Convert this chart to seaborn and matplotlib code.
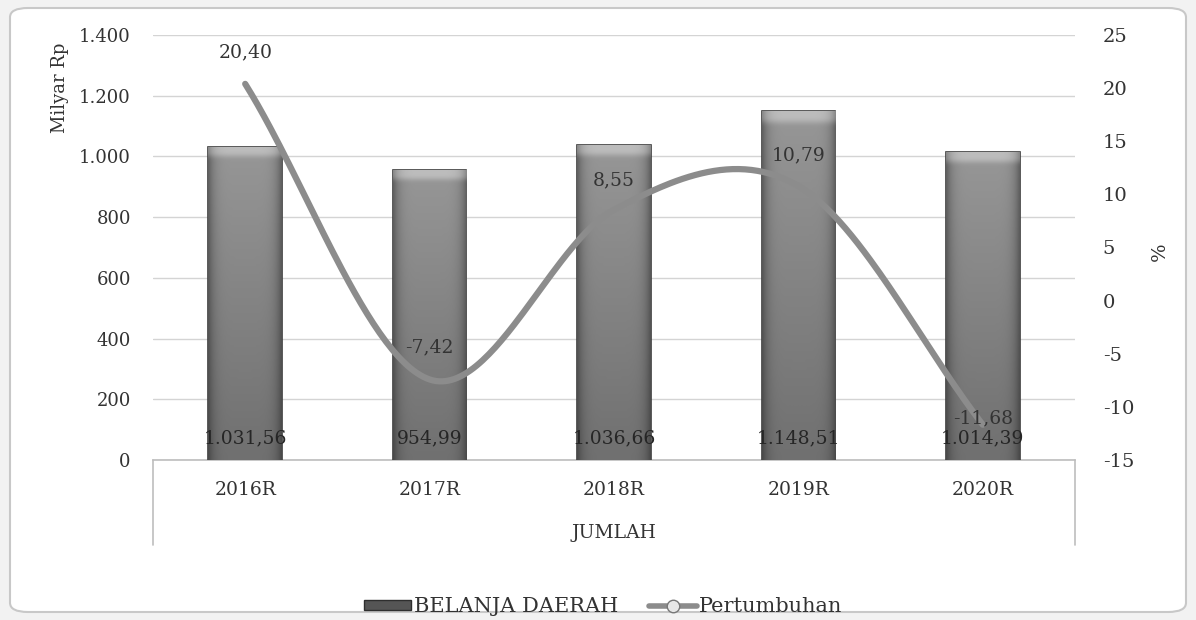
import numpy as np
import pandas as pd
import matplotlib
matplotlib.use("Agg")
import matplotlib.pyplot as plt
from matplotlib.patches import FancyBboxPatch
from matplotlib.lines import Line2D
from matplotlib.patches import Patch
import seaborn as sns

# ---- data ----
categories = ["2016R", "2017R", "2018R", "2019R", "2020R"]
belanja = [1031.56, 954.99, 1036.66, 1148.51, 1014.39]
pertumbuhan = [20.40, -7.42, 8.55, 10.79, -11.68]
left_ticks = [0, 200, 400, 600, 800, 1000, 1200, 1400]
right_ticks = [-15, -10, -5, 0, 5, 10, 15, 20, 25]


def id_fmt(v, dec=2):
    s = f"{v:,.{dec}f}"
    return s.replace(",", "X").replace(".", ",").replace("X", ".")


sns.set_theme(style="white")
plt.rcParams["font.family"] = ["DejaVu Serif"]
TXT = "#333333"
FS = 13.5

fig = plt.figure(figsize=(11.96, 6.2), dpi=100, facecolor="#f2f2f2")
W, H = 1196, 620

# rounded chart frame
frame = FancyBboxPatch((10 / W, 8 / H), 1176 / W, 604 / H,
                       boxstyle="round,pad=0,rounding_size=0.015",
                       transform=fig.transFigure, facecolor="white",
                       edgecolor="#c8c8c8", linewidth=1.5, zorder=-5)
fig.patches.append(frame)

ax = fig.add_axes([153 / W, 1 - 460 / H, 922 / W, 425 / H])
ax.patch.set_alpha(0)

df = pd.DataFrame({"kategori": categories, "belanja": belanja})
sns.barplot(data=df, x="kategori", y="belanja", ax=ax, width=0.40,
            color="#777777", edgecolor="#3c3c3c", linewidth=1.2,
            saturation=1, zorder=3)

# shading inside the bars: lighter top, darker sides and bottom
gx = np.linspace(0, 1, 64)
gy = np.linspace(0, 1, 64)[:, None]
side = 1 - 0.35 * (np.abs(gx - 0.5) * 2) ** 6
vert = 0.44 + 0.15 * gy
img = vert * side
img[-2:, :] = np.minimum(img[-2:, :] + 0.15, 1)
for p in list(ax.patches):
    x0, y0 = p.get_x(), p.get_y()
    w, h = p.get_width(), p.get_height()
    im = ax.imshow(img, extent=[x0, x0 + w, y0, y0 + h], cmap="gray",
                   vmin=0, vmax=1, aspect="auto", zorder=3.5, origin="lower",
                   interpolation="bicubic")
    im.set_clip_path(p)

ax.set_xlim(-0.5, 4.5)
ax.set_ylim(0, 1400)
ax.set_yticks(left_ticks)
ax.set_yticklabels([id_fmt(v, 0) for v in left_ticks], fontsize=13, color=TXT)
ax.set_xticks(range(len(categories)))
ax.set_xticklabels(categories, fontsize=FS, color=TXT)
ax.tick_params(axis="x", length=0, pad=15)
ax.tick_params(axis="y", length=0, pad=16)
ax.set_xlabel("")
ax.set_ylabel("")
for s in ["top", "left", "right"]:
    ax.spines[s].set_visible(False)
ax.spines["bottom"].set_color("#bdbdbd")
ax.spines["bottom"].set_linewidth(1.2)
ax.yaxis.grid(True, color="#d4d4d4", linewidth=1.0, zorder=0)
ax.set_axisbelow(True)

# category group box
for xa in (0, 1):
    ax.plot([xa, xa], [0, -0.2], transform=ax.transAxes, color="#bdbdbd",
            lw=1.2, clip_on=False)
ax.text(0.5, -0.172, "JUMLAH", transform=ax.transAxes, ha="center",
        va="center", fontsize=FS, color=TXT)

# bar value labels
for i, v in enumerate(belanja):
    ax.text(i, 72, id_fmt(v), ha="center", va="center", fontsize=FS,
            color="#262626", zorder=5)

# growth line on secondary axis (smoothed Catmull-Rom curve)
ax2 = ax.twinx()
ax2.set_ylim(-15, 25)
ax2.set_yticks(right_ticks)
ax2.set_yticklabels([str(v) for v in right_ticks], fontsize=14, color=TXT)
ax2.tick_params(axis="y", length=0, pad=20)
for s in ax2.spines.values():
    s.set_visible(False)
ax2.grid(False)

P = np.array(pertumbuhan, dtype=float)
n = len(P)
xs, ys = [], []
for i in range(n - 1):
    m0 = (P[i + 1] - P[i - 1]) / 2 if i > 0 else (P[i + 1] - P[i])
    m1 = (P[i + 2] - P[i]) / 2 if i + 2 < n else (P[i + 1] - P[i])
    t = np.linspace(0, 1, 60)
    h00 = 2 * t**3 - 3 * t**2 + 1
    h10 = t**3 - 2 * t**2 + t
    h01 = -2 * t**3 + 3 * t**2
    h11 = t**3 - t**2
    xs.append(i + t)
    ys.append(h00 * P[i] + h10 * m0 + h01 * P[i + 1] + h11 * m1)
curve = pd.DataFrame({"x": np.concatenate(xs), "y": np.concatenate(ys)})
sns.lineplot(data=curve, x="x", y="y", ax=ax2, color="#8c8c8c", lw=4.5,
             sort=False, estimator=None, zorder=6)
ax2.set_xlabel("")
ax2.set_ylabel("")
ax2.set_xlim(-0.5, 4.5)

label_offsets = [3.0, 3.0, 2.8, 2.9, 0.6]
for i, (v, off) in enumerate(zip(pertumbuhan, label_offsets)):
    ax2.text(i, v + off, id_fmt(v), ha="center", va="center", fontsize=FS,
             color=TXT, zorder=7)

# axis titles
fig.text(60 / W, 1 - 88 / H, "Milyar Rp", rotation=90, ha="center",
         va="center", fontsize=13, color=TXT)
fig.text(1160 / W, 1 - 252 / H, "%", rotation=90, ha="center",
         va="center", fontsize=14, color=TXT)

# legend
handles = [
    Patch(facecolor="#555555", edgecolor="#2e2e2e", label="BELANJA DAERAH"),
    Line2D([0], [0], color="#8c8c8c", lw=4, marker="o", markersize=9,
           markerfacecolor="#e6e6e6", markeredgecolor="#777777",
           label="Pertumbuhan"),
]
fig.legend(handles=handles, loc="center", bbox_to_anchor=(603 / W, 1 - 607 / H),
           ncol=2, frameon=False, fontsize=15, handlelength=2.3,
           handleheight=0.35, columnspacing=1.5, handletextpad=0.1,
           labelcolor=TXT)

fig.savefig("out.png", dpi=100, facecolor=fig.get_facecolor())
